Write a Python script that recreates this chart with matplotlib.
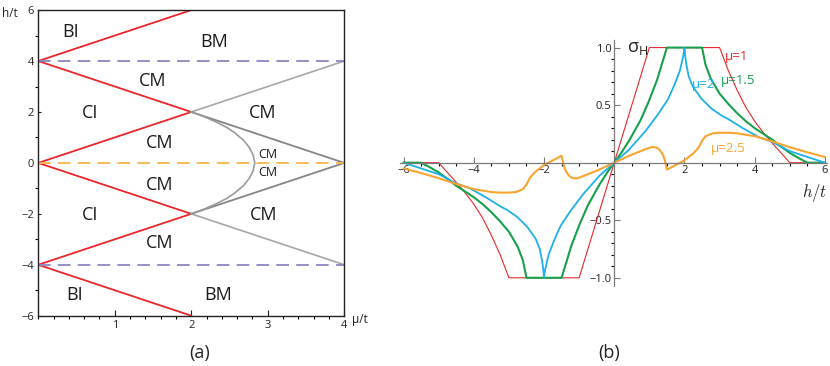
import matplotlib.pyplot as plt
from matplotlib.ticker import MultipleLocator, FixedLocator

plt.rcParams['font.family'] = ['Open Sans', 'DejaVu Sans']

# ---- (a) phase diagram: boundary segments, (mu/t, h/t) end points
red_mu = [[0, 2], [0, 2], [0, 2], [0, 2], [0, 2], [0, 2]]
red_h = [[4, 6], [4, 2], [0, 2], [0, -2], [-4, -2], [-4, -6]]
light_mu = [[2, 4], [2, 4]]
light_h = [[2, 4], [-2, -4]]
dark_mu = [[2, 4], [2, 4]]
dark_h = [[2, 0], [-2, 0]]
# curved boundary between (2, 2) and (2, -2)
arc_mu = [2.0, 2.18, 2.33, 2.46, 2.56, 2.68, 2.76, 2.81, 2.83,
          2.81, 2.76, 2.68, 2.56, 2.46, 2.33, 2.18, 2.0]
arc_h = [2.0, 1.8, 1.6, 1.4, 1.2, 0.9, 0.6, 0.3, 0.0,
         -0.3, -0.6, -0.9, -1.2, -1.4, -1.6, -1.8, -2.0]
dash_purple_h = [4, -4]
dash_orange_h = [0]

phase_names = ['BI', 'BM', 'CM', 'CI', 'CM', 'CM', 'CM', 'CI', 'CM', 'CM', 'BI', 'BM']
small_names = ['CM', 'CM']

# ---- (b) sigma_H vs h/t, positive half (curves are odd in h)
h_mu1 = [0, 1, 3, 3.1, 3.25, 3.5, 3.75, 4.0, 4.25, 4.5, 4.75, 5.0, 6.0]
s_mu1 = [0, 1, 1, 0.92, 0.8, 0.63, 0.48, 0.36, 0.26, 0.17, 0.085, 0, 0]

h_mu15 = [0, 0.2, 0.42, 0.75, 0.98, 1.22, 1.36, 1.5, 2.5, 2.6, 2.75, 3.0, 3.25,
          3.5, 3.75, 4.0, 4.25, 4.5, 4.75, 5.0, 5.25, 5.5, 6.0]
s_mu15 = [0, 0.085, 0.19, 0.37, 0.53, 0.72, 0.86, 1.0, 1.0, 0.85, 0.73, 0.6, 0.51,
          0.43, 0.36, 0.3, 0.25, 0.2, 0.14, 0.085, 0.04, 0, 0]

h_mu2 = [0, 0.42, 0.89, 1.27, 1.53, 1.72, 1.87, 1.96, 1.99, 2.0, 2.02, 2.05, 2.12,
         2.24, 2.48, 2.77, 3.05, 3.24, 3.66, 4.13, 4.5, 5.0, 5.5, 6.0]
s_mu2 = [0, 0.113, 0.275, 0.43, 0.55, 0.68, 0.8, 0.92, 0.97, 1.0, 0.93, 0.86, 0.75,
         0.66, 0.557, 0.47, 0.41, 0.38, 0.3, 0.22, 0.18, 0.1, 0.05, 0]

h_mu25 = [0, 0.25, 0.5, 0.75, 1.0, 1.1, 1.2, 1.3, 1.4, 1.45, 1.5, 1.75, 2.0, 2.25,
          2.4, 2.5, 2.6, 2.8, 3.0, 3.25, 3.5, 4.0, 4.5, 5.0, 5.5, 6.0]
s_mu25 = [0, 0.035, 0.07, 0.1, 0.13, 0.137, 0.132, 0.11, 0.06, 0.01, -0.06, -0.02,
          0.02, 0.08, 0.13, 0.19, 0.23, 0.255, 0.26, 0.26, 0.255, 0.23, 0.185,
          0.135, 0.09, 0.05]

curve_labels = ['μ=1', 'μ=1.5', 'μ=2', 'μ=2.5']
x_ticks_b = [-6, -4, -2, 2, 4, 6]
y_ticks_b = [-1.0, -0.5, 0.5, 1.0]


def odd(h, s):
    return [-v for v in h[::-1]] + h[1:], [-v for v in s[::-1]] + s[1:]


RED = '#e8262b'
fig = plt.figure(figsize=(8.30, 3.66), dpi=100)

# ---------------- panel (a)
ax = fig.add_axes([0.0461, 0.1374, 0.3687, 0.835])
for m, h in zip(red_mu, red_h):
    ax.plot(m, h, color=RED, lw=1.3)
for m, h in zip(light_mu, light_h):
    ax.plot(m, h, color='#a6a6a6', lw=1.2)
for m, h in zip(dark_mu, dark_h):
    ax.plot(m, h, color='#858585', lw=1.3)
ax.plot(arc_mu, arc_h, color='#9a9a9a', lw=1.2)
for h in dash_purple_h:
    ax.plot([0, 4], [h, h], color='#8a86c4', lw=1.3, dashes=(7, 4))
for h in dash_orange_h:
    ax.plot([0, 4], [h, h], color='#f7b548', lw=1.3, dashes=(7, 4))

big_pos = [(0.42, 5.15), (2.3, 4.75), (1.5, 3.2), (0.68, 1.95), (2.93, 1.95), (1.58, 0.8),
           (1.58, -0.85), (0.68, -2.05), (2.95, -2.05), (1.58, -3.15), (0.47, -5.2), (2.35, -5.2)]
for name, (x, y) in zip(phase_names, big_pos):
    ax.text(x, y, name, fontsize=13, ha='center', va='center', color='#1a1a1a')
for name, y in zip(small_names, [0.33, -0.38]):
    ax.text(3.0, y, name, fontsize=9, ha='center', va='center', color='#1a1a1a')

ax.set_xlim(0, 4)
ax.set_ylim(-6, 6)
ax.xaxis.set_major_locator(FixedLocator([1, 2, 3, 4]))
ax.xaxis.set_minor_locator(MultipleLocator(0.2))
ax.yaxis.set_major_locator(MultipleLocator(2))
ax.yaxis.set_minor_locator(MultipleLocator(1))
ax.tick_params(direction='in', labelsize=8, colors='#222222', pad=3)
ax.tick_params(which='major', length=4, width=0.8)
ax.tick_params(which='minor', length=2.2, width=0.8)
ax.yaxis.set_tick_params(which='both', length=2.5)
for sp in ax.spines.values():
    sp.set_color('#222222')
    sp.set_linewidth(1.0)
fig.text(0.0217, 0.962, 'h/t', fontsize=8.5, ha='right', va='center', color='#222222')
fig.text(0.424, 0.126, 'μ/t', fontsize=8.5, ha='left', va='center', color='#222222')
fig.text(0.241, 0.0355, '(a)', fontsize=13, ha='center', va='center', color='#222222')

# ---------------- panel (b)
bx = fig.add_axes([0.482, 0.219, 0.514, 0.673])
series = [(h_mu1, s_mu1, RED, 0.8), (h_mu15, s_mu15, '#17a04c', 1.5),
          (h_mu2, s_mu2, '#1eb0ea', 1.3), (h_mu25, s_mu25, '#f8a431', 1.5)]
for h, s, c, lw in series:
    hh, ss = odd(h, s)
    bx.plot(hh, ss, color=c, lw=lw, solid_joinstyle='round')

label_pos = [(3.15, 0.92), (3.03, 0.71), (2.2, 0.68), (2.74, 0.12)]
for lab, (x, y), (_, _, c, _) in zip(curve_labels, label_pos, series):
    bx.text(x, y, lab, color=c, fontsize=9.5, ha='left', va='center')

bx.set_xlim(-6.1, 6.05)
bx.set_ylim(-1.07, 1.07)
for side in ['top', 'right']:
    bx.spines[side].set_visible(False)
for side in ['left', 'bottom']:
    bx.spines[side].set_position(('data', 0))
    bx.spines[side].set_color('#7a7a7a')
    bx.spines[side].set_linewidth(0.9)
bx.xaxis.set_major_locator(FixedLocator(x_ticks_b))
bx.xaxis.set_minor_locator(MultipleLocator(0.5))
bx.yaxis.set_major_locator(FixedLocator(y_ticks_b))
bx.yaxis.set_minor_locator(MultipleLocator(0.1))
bx.set_xticklabels([f'{v:d}'.replace('-', '\u2212') for v in x_ticks_b])
bx.set_yticklabels([f'{v:.1f}'.replace('-', '\u2212') for v in y_ticks_b])
bx.tick_params(direction='in', labelsize=8, colors='#7a7a7a', labelcolor='#222222', pad=2)
bx.tick_params(which='major', length=4, width=0.8)
bx.tick_params(which='minor', length=2.5, width=0.8)
bx.text(0.35, 1.0, r'$\mathregular{\sigma_H}$', fontsize=13, ha='left', va='center',
        color='#222222')
bx.text(5.72, -0.26, r'$h/t$', fontsize=12, ha='center', va='center', color='#222222',
        math_fontfamily='cm')
fig.text(0.734, 0.0355, '(b)', fontsize=13, ha='center', va='center', color='#222222')

fig.savefig('out.png', dpi=100)
